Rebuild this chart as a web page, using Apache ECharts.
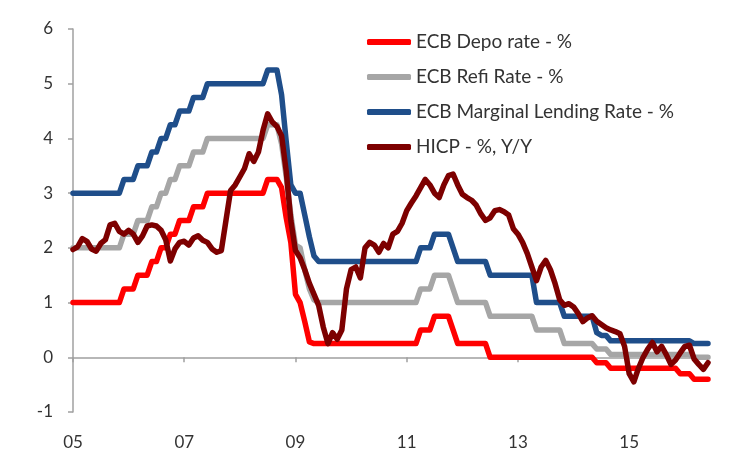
<!DOCTYPE html>
<html>
<head>
<meta charset="utf-8">
<script src="https://cdn.jsdelivr.net/npm/echarts@6/dist/echarts.min.js"></script>
<style>
html,body{margin:0;padding:0;background:#fff;}
#chart{width:756px;height:463px;}
</style>
</head>
<body>
<div id="chart"></div>
<script>
// Monthly, Jan 2005 .. Jun 2016
var months = [];
for (var y = 2005; y <= 2016; y++) {
  for (var mo = 1; mo <= 12; mo++) {
    if (y === 2016 && mo > 6) break;
    months.push(y + '-' + (mo < 10 ? '0' + mo : mo));
  }
}
var seriesNames = ['ECB Depo rate - %', 'ECB Refi Rate - %', 'ECB Marginal Lending Rate - %', 'HICP - %, Y/Y'];

var depoRate = [
  1.0,1.0,1.0,1.0,1.0,1.0,1.0,1.0,1.0,1.0,1.0,1.25,
  1.25,1.25,1.5,1.5,1.5,1.75,1.75,2.0,2.0,2.25,2.25,2.5,
  2.5,2.5,2.75,2.75,2.75,3.0,3.0,3.0,3.0,3.0,3.0,3.0,
  3.0,3.0,3.0,3.0,3.0,3.0,3.25,3.25,3.25,3.1,2.55,2.1,
  1.15,1.0,0.65,0.28,0.25,0.25,0.25,0.25,0.25,0.25,0.25,0.25,
  0.25,0.25,0.25,0.25,0.25,0.25,0.25,0.25,0.25,0.25,0.25,0.25,
  0.25,0.25,0.25,0.5,0.5,0.5,0.75,0.75,0.75,0.75,0.5,0.25,
  0.25,0.25,0.25,0.25,0.25,0.25,0.0,0.0,0.0,0.0,0.0,0.0,
  0.0,0.0,0.0,0.0,0.0,0.0,0.0,0.0,0.0,0.0,0.0,0.0,
  0.0,0.0,0.0,0.0,0.0,-0.1,-0.1,-0.1,-0.2,-0.2,-0.2,-0.2,
  -0.2,-0.2,-0.2,-0.2,-0.2,-0.2,-0.2,-0.2,-0.2,-0.2,-0.2,-0.3,
  -0.3,-0.3,-0.4,-0.4,-0.4,-0.4
];
var refiRate = [
  2.0,2.0,2.0,2.0,2.0,2.0,2.0,2.0,2.0,2.0,2.0,2.25,
  2.25,2.25,2.5,2.5,2.5,2.75,2.75,3.0,3.0,3.25,3.25,3.5,
  3.5,3.5,3.75,3.75,3.75,4.0,4.0,4.0,4.0,4.0,4.0,4.0,
  4.0,4.0,4.0,4.0,4.0,4.0,4.25,4.25,4.25,3.9,3.3,2.6,
  2.05,2.0,1.6,1.25,1.05,1.0,1.0,1.0,1.0,1.0,1.0,1.0,
  1.0,1.0,1.0,1.0,1.0,1.0,1.0,1.0,1.0,1.0,1.0,1.0,
  1.0,1.0,1.0,1.25,1.25,1.25,1.5,1.5,1.5,1.5,1.25,1.0,
  1.0,1.0,1.0,1.0,1.0,1.0,0.75,0.75,0.75,0.75,0.75,0.75,
  0.75,0.75,0.75,0.75,0.5,0.5,0.5,0.5,0.5,0.5,0.25,0.25,
  0.25,0.25,0.25,0.25,0.25,0.15,0.15,0.15,0.05,0.05,0.05,0.05,
  0.05,0.05,0.05,0.05,0.05,0.05,0.05,0.05,0.05,0.05,0.05,0.05,
  0.05,0.05,0.0,0.0,0.0,0.0
];
var mlfRate = [
  3.0,3.0,3.0,3.0,3.0,3.0,3.0,3.0,3.0,3.0,3.0,3.25,
  3.25,3.25,3.5,3.5,3.5,3.75,3.75,4.0,4.0,4.25,4.25,4.5,
  4.5,4.5,4.75,4.75,4.75,5.0,5.0,5.0,5.0,5.0,5.0,5.0,
  5.0,5.0,5.0,5.0,5.0,5.0,5.25,5.25,5.25,4.8,3.95,3.15,
  3.0,3.0,2.6,2.2,1.85,1.75,1.75,1.75,1.75,1.75,1.75,1.75,
  1.75,1.75,1.75,1.75,1.75,1.75,1.75,1.75,1.75,1.75,1.75,1.75,
  1.75,1.75,1.75,2.0,2.0,2.0,2.25,2.25,2.25,2.25,2.0,1.75,
  1.75,1.75,1.75,1.75,1.75,1.75,1.5,1.5,1.5,1.5,1.5,1.5,
  1.5,1.5,1.5,1.5,1.0,1.0,1.0,1.0,1.0,1.0,0.75,0.75,
  0.75,0.75,0.75,0.75,0.75,0.45,0.4,0.4,0.3,0.3,0.3,0.3,
  0.3,0.3,0.3,0.3,0.3,0.3,0.3,0.3,0.3,0.3,0.3,0.3,
  0.3,0.3,0.25,0.25,0.25,0.25
];
var hicp = [
  1.97,2.02,2.17,2.12,1.98,1.94,2.08,2.15,2.42,2.45,2.3,2.25,
  2.32,2.25,2.1,2.22,2.4,2.42,2.4,2.32,2.15,1.76,1.98,2.1,
  2.12,2.05,2.18,2.22,2.14,2.1,1.98,1.92,1.95,2.5,3.05,3.15,
  3.3,3.45,3.72,3.58,3.75,4.15,4.45,4.3,4.22,4.05,3.4,2.5,
  1.95,1.82,1.6,1.35,1.15,0.95,0.55,0.25,0.45,0.33,0.5,1.25,
  1.6,1.65,1.45,2.0,2.1,2.05,1.92,2.08,2.0,2.25,2.3,2.45,
  2.68,2.82,2.95,3.1,3.25,3.15,3.0,2.92,3.15,3.32,3.35,3.15,
  2.98,2.92,2.87,2.78,2.62,2.5,2.55,2.68,2.7,2.66,2.6,2.35,
  2.25,2.1,1.9,1.65,1.4,1.65,1.77,1.6,1.35,1.05,0.95,0.98,
  0.92,0.8,0.65,0.72,0.76,0.66,0.6,0.54,0.5,0.47,0.43,0.2,
  -0.3,-0.45,-0.2,0.0,0.15,0.27,0.1,0.2,0.05,-0.13,-0.05,0.08,
  0.2,0.22,-0.03,-0.13,-0.22,-0.1
];
var yTicks = {min: -1, max: 6, step: 1};

var colors = ['#ff0000', '#a6a6a6', '#1f4e8a', '#7d0000'];
var font = 'Lato, "Open Sans", sans-serif';

function everyTwoYears(i) { return i % 24 === 0; }

var chart = echarts.init(document.getElementById('chart'), null, {renderer: 'canvas'});
var seriesData = [depoRate, refiRate, mlfRate, hicp];
chart.setOption({
  animation: false,
  backgroundColor: '#ffffff',
  color: colors,
  grid: {left: 73, right: 48, top: 29, bottom: 51, containLabel: false, outerBoundsMode: 'none'},
  legend: {
    orient: 'vertical',
    left: 367,
    top: 32,
    padding: 0,
    itemWidth: 44,
    itemHeight: 6,
    itemGap: 15,
    icon: 'roundRect',
    selectedMode: false,
    data: seriesNames,
    textStyle: {fontSize: 19, lineHeight: 20, color: '#333', fontFamily: font}
  },
  xAxis: {
    type: 'category',
    data: months,
    boundaryGap: false,
    axisLine: {onZero: true, lineStyle: {color: '#a0a0a0', width: 1.5}},
    axisTick: {show: true, interval: everyTwoYears, length: 5, lineStyle: {color: '#a0a0a0', width: 1.5}},
    axisLabel: {
      interval: everyTwoYears,
      margin: 22,
      fontSize: 17,
      color: '#333',
      fontFamily: font,
      formatter: function (v) { return v.substring(2, 4); }
    },
    splitLine: {show: false}
  },
  yAxis: {
    type: 'value',
    min: yTicks.min,
    max: yTicks.max,
    interval: yTicks.step,
    axisLine: {show: true, lineStyle: {color: '#a0a0a0', width: 1.5}},
    axisTick: {show: true, length: 5, lineStyle: {color: '#a0a0a0', width: 1.5}},
    axisLabel: {margin: 20, fontSize: 17, color: '#333', fontFamily: font},
    splitLine: {show: false}
  },
  series: seriesNames.map(function (n, i) {
    return {
      name: n,
      type: 'line',
      data: seriesData[i],
      showSymbol: false,
      symbol: 'none',
      lineStyle: {width: 5.5, color: colors[i], cap: 'round', join: 'round'},
      itemStyle: {color: colors[i]},
      z: 2 + i
    };
  })
});
</script>
</body>
</html>
